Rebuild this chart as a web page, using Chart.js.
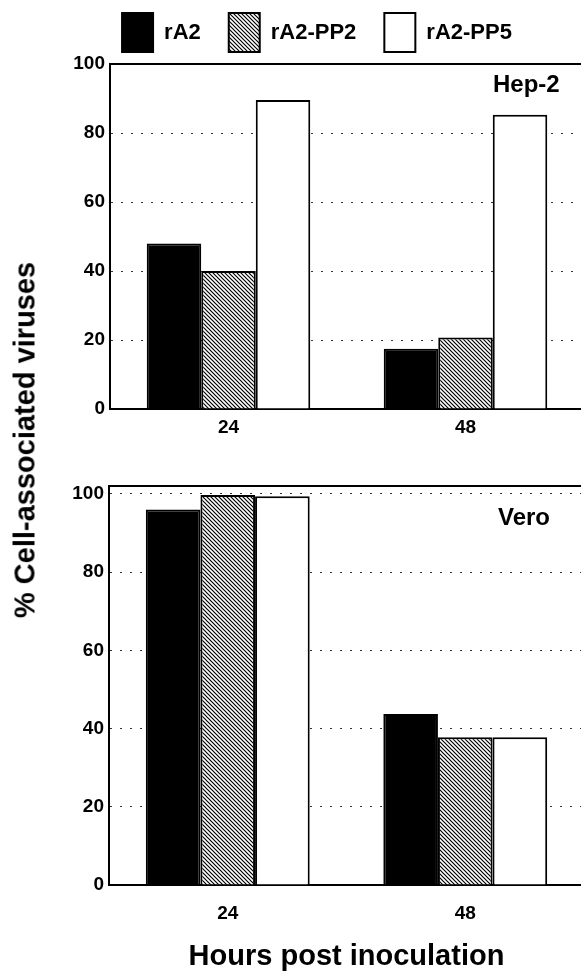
<!DOCTYPE html>
<html lang="en">
<head>
<meta charset="UTF-8">
<title>% Cell-associated viruses</title>
<style>
  body { margin: 0; background: #fff; overflow: hidden; }
  #wrap { position: relative; width: 581px; height: 971px; overflow: hidden; }
  #topChart { position: absolute; left: 0; top: 0; }
  #bottomChart { position: absolute; left: 0; top: 450px; }
  #yTitle {
    position: absolute; left: 25px; top: 440px;
    transform: translate(-50%, -50%) rotate(-90deg);
    font: bold 29px "Liberation Sans", Arial, sans-serif; line-height: 1;
    white-space: nowrap; color: #000;
  }
</style>
</head>
<body>
<div id="wrap">
  <canvas id="topChart" width="584" height="450"></canvas>
  <canvas id="bottomChart" width="584" height="521"></canvas>
  <div id="yTitle">% Cell-associated viruses</div>
</div>

<script src="https://cdn.jsdelivr.net/npm/chart.js"></script>
<script>
// data
const hours = ['24', '48']
const seriesNames = ['rA2', 'rA2-PP2', 'rA2-PP5']

const hep2_rA2 = [48, 17.5]
const hep2_PP2 = [40, 20.7]
const hep2_PP5 = [89.6, 85.3]

const vero_rA2 = [96, 43.7]
const vero_PP2 = [99.7, 37.8]
const vero_PP5 = [99.4, 37.8]

Chart.defaults.font.family = '"Liberation Sans", Arial, sans-serif'
Chart.defaults.color = '#000'

// diagonal hatch for rA2-PP2
function hatch() {
  const c = document.createElement('canvas')
  c.width = 4; c.height = 4
  const g = c.getContext('2d')
  g.fillStyle = '#fff'
  g.fillRect(0, 0, 4, 4)
  g.strokeStyle = '#000'
  g.lineWidth = 1.2
  g.beginPath()
  g.moveTo(0, 0); g.lineTo(4, 4)
  g.moveTo(-1, 3); g.lineTo(1, 5)
  g.moveTo(3, -1); g.lineTo(5, 1)
  g.stroke()
  return g.createPattern(c, 'repeat')
}
const hatchFill = hatch()

const fills = ['#000', hatchFill, '#fff']

function makeDatasets(values) {
  return values.map((v, i) => ({
    label: seriesNames[i],
    data: v,
    backgroundColor: fills[i],
    borderColor: '#000',
    borderWidth: 2,
    categoryPercentage: 0.69,
    barPercentage: 1
  }))
}

// panel name in the upper right corner
const panelLabel = {
  id: 'panelLabel',
  afterDatasetsDraw(chart, args, opts) {
    const { ctx, chartArea } = chart
    ctx.save()
    ctx.font = 'bold 24px "Liberation Sans", Arial, sans-serif'
    ctx.fillStyle = '#000'
    ctx.textBaseline = 'alphabetic'
    ctx.fillText(opts.text, chartArea.right - opts.dx, chartArea.top + opts.dy)
    ctx.restore()
  }
}

function scales(yMax, yWidth, xHeight, tickPad, withTitle) {
  return {
    x: {
      grid: { display: false, drawTicks: false },
      border: { display: true, color: '#000', width: 2 },
      ticks: { font: { size: 19, weight: 'bold' }, padding: tickPad },
      title: {
        display: withTitle,
        text: 'Hours post inoculation',
        font: { size: 29, weight: 'bold', lineHeight: 1 },
        padding: 0
      },
      afterFit: s => { s.height = xHeight }
    },
    x2: {
      position: 'top',
      ticks: { display: false },
      grid: { display: false, drawTicks: false },
      border: { display: true, color: '#000', width: 2 },
      afterFit: s => { s.height = 2 }
    },
    y: {
      min: 0,
      max: yMax,
      ticks: { stepSize: 20, includeBounds: false, font: { size: 19, weight: 'bold' }, padding: 5 },
      grid: { color: '#333', lineWidth: 1, drawTicks: false },
      border: { display: true, color: '#000', width: 2, dash: [2, 8] },
      afterFit: s => { s.width = yWidth }
    }
  }
}

new Chart(document.querySelector('#topChart'), {
  type: 'bar',
  data: { labels: hours, datasets: makeDatasets([hep2_rA2, hep2_PP2, hep2_PP5]) },
  plugins: [panelLabel],
  options: {
    responsive: false,
    animation: false,
    layout: { padding: { top: -15, left: 50, right: 0, bottom: 0 } },
    scales: scales(100, 60, 41, 7, false),
    plugins: {
      tooltip: { enabled: false },
      legend: {
        position: 'top',
        labels: {
          boxWidth: 31,
          boxHeight: 39,
          padding: 28,
          font: { size: 22, weight: 'bold' },
          color: '#000'
        }
      },
      panelLabel: { text: 'Hep-2', dx: 91, dy: 28 }
    }
  }
})

new Chart(document.querySelector('#bottomChart'), {
  type: 'bar',
  data: { labels: hours, datasets: makeDatasets([vero_rA2, vero_PP2, vero_PP5]) },
  plugins: [panelLabel],
  options: {
    responsive: false,
    animation: false,
    layout: { padding: { top: 34, left: 50, right: 0, bottom: 0 } },
    scales: scales(102, 59, 86, 17, true),
    plugins: {
      tooltip: { enabled: false },
      legend: { display: false },
      panelLabel: { text: 'Vero', dx: 86, dy: 39 }
    }
  }
})
</script>
</body>
</html>
